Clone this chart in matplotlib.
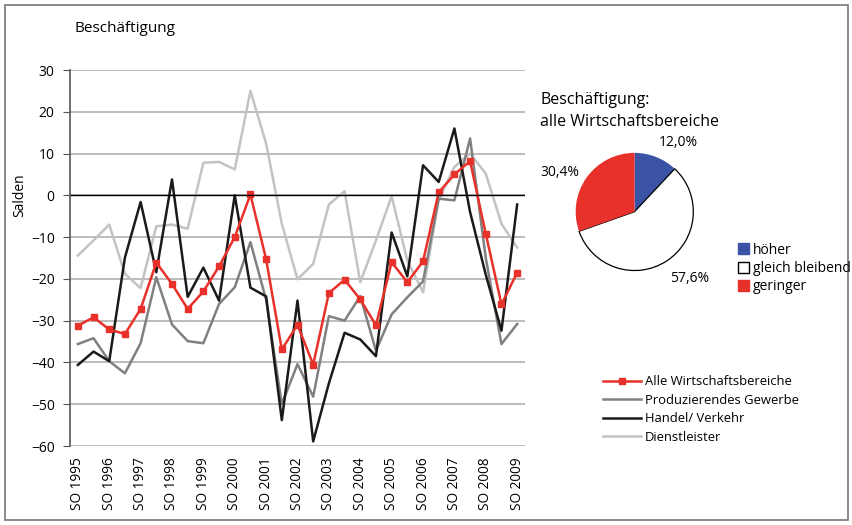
import matplotlib.pyplot as plt
from matplotlib.lines import Line2D
from matplotlib.patches import Patch, Rectangle

plt.rcParams['font.family'] = ['Open Sans', 'DejaVu Sans']

# half-year survey waves, labelled every second one (SO = autumn wave)
years = [str(y) for y in range(1995, 2010)]
tick_labels = ['SO ' + y for y in years]

alle = [-31.2, -29.2, -32.1, -33.2, -27.2, -16.1, -21.2, -27.2, -23.0, -17.0,
        -10.0, 0.2, -15.3, -36.9, -31.0, -40.5, -23.4, -20.2, -24.9, -31.1,
        -16.0, -20.8, -15.8, 0.7, 5.0, 8.2, -9.2, -26.1, -18.5]
produzierend = [-35.6, -34.2, -39.7, -42.6, -35.4, -19.6, -30.9, -34.9, -35.4, -26.0,
                -22.0, -11.2, -25.0, -50.0, -40.4, -48.2, -28.9, -30.0, -24.1, -37.2,
                -28.5, -24.4, -20.6, -0.8, -1.2, 13.6, -15.0, -35.6, -30.8]
handel = [-40.6, -37.4, -39.7, -14.9, -1.6, -18.4, 3.8, -24.3, -17.3, -25.2,
          0.0, -22.1, -24.2, -53.8, -25.2, -58.9, -45.0, -32.9, -34.5, -38.5,
          -8.9, -19.4, 7.2, 3.2, 16.0, -4.0, -19.0, -32.4, -2.2]
dienst = [-14.4, -10.8, -7.0, -18.8, -22.2, -7.4, -7.0, -8.0, 7.8, 8.0,
          6.2, 25.0, 12.4, -6.8, -20.1, -16.4, -2.2, 1.0, -20.8, -10.8,
          -0.2, -15.6, -23.2, -1.0, 6.8, 10.0, 5.2, -6.8, -12.5]

pie_labels = ['höher', 'gleich bleibend', 'geringer']
pie_values = [12.0, 57.6, 30.4]
pie_texts = ['12,0%', '57,6%', '30,4%']

RED = '#e8312a'
BLUE = '#3a53a4'
DARK = '#1a1a1a'
MID = '#808080'
LIGHT = '#c3c3c3'

W, H = 852, 525
fig = plt.figure(figsize=(W / 100, H / 100), dpi=100)

# frame round the whole figure
fig.patches.append(Rectangle((5 / W, 5 / H), 843 / W, 515 / H, transform=fig.transFigure,
                             fill=False, edgecolor='#777777', linewidth=1.2))

# main line chart
ax = fig.add_axes([70 / W, (H - 446) / H, 455 / W, 376 / H])
x = list(range(len(alle)))
ax.plot(x, dienst, color=LIGHT, lw=1.8, label='Dienstleister')
ax.plot(x, produzierend, color=MID, lw=1.8, label='Produzierendes Gewerbe')
ax.plot(x, handel, color=DARK, lw=1.8, label='Handel/ Verkehr')
ax.plot(x, alle, color=RED, lw=1.8, marker='s', markersize=5, label='Alle Wirtschaftsbereiche')

ax.set_xlim(-0.5, len(alle) - 0.5)
ax.set_ylim(-60, 30)
ax.set_yticks(range(-60, 31, 10))
ax.set_xticks(range(0, len(alle), 2))
ax.set_xticklabels(tick_labels, rotation=90, fontsize=9.8)
ax.tick_params(axis='x', length=0, pad=8)
ax.tick_params(axis='y', length=5, color='#555555', labelsize=10, pad=6)
ax.grid(axis='y', color='#b0b0b0', lw=1.2)
ax.axhline(0, color='black', lw=1)
for s in ['top', 'right', 'bottom']:
    ax.spines[s].set_visible(False)
ax.spines['left'].set_color('#555555')
ax.spines['left'].set_linewidth(1.2)
ax.set_axisbelow(True)

fig.text(20 / W, 1 - 195 / H, 'Salden', rotation=90, ha='center', va='center', fontsize=10)
fig.text(75 / W, 1 - 28 / H, 'Beschäftigung', ha='left', va='center', fontsize=11)

handles = [Line2D([], [], color=RED, lw=1.8, marker='s', markersize=5),
           Line2D([], [], color=MID, lw=1.8),
           Line2D([], [], color=DARK, lw=1.8),
           Line2D([], [], color=LIGHT, lw=1.8)]
names = ['Alle Wirtschaftsbereiche', 'Produzierendes Gewerbe', 'Handel/ Verkehr', 'Dienstleister']
fig.legend(handles, names, loc='upper left', bbox_to_anchor=(598 / W, 1 - 370 / H),
           frameon=False, fontsize=9.4, handlelength=2.9, handletextpad=0.3,
           labelspacing=0.42, borderaxespad=0)

# pie chart
pax = fig.add_axes([574.5 / W, (H - 271.7) / H, 120 / W, 120 / H])
wedges, _ = pax.pie(pie_values, colors=[BLUE, 'white', RED], startangle=90,
                    counterclock=False, radius=1,
                    wedgeprops=dict(linewidth=0))
wedges[1].set_edgecolor('black')
wedges[1].set_linewidth(0.9)
pax.set_xlim(-1.02, 1.02)
pax.set_ylim(-1.02, 1.02)
pax.set_aspect('equal')

fig.text(540 / W, 1 - 100 / H, 'Beschäftigung:', ha='left', va='center', fontsize=11.5)
fig.text(540 / W, 1 - 122 / H, 'alle Wirtschaftsbereiche', ha='left', va='center', fontsize=11.5)
fig.text(678 / W, 1 - 143 / H, pie_texts[0], ha='center', va='center', fontsize=10)
fig.text(690 / W, 1 - 278 / H, pie_texts[1], ha='center', va='center', fontsize=10)
fig.text(560 / W, 1 - 172 / H, pie_texts[2], ha='center', va='center', fontsize=10)

pie_handles = [Patch(facecolor=BLUE, edgecolor=BLUE),
               Patch(facecolor='white', edgecolor='black'),
               Patch(facecolor=RED, edgecolor=RED)]
fig.legend(pie_handles, pie_labels, loc='upper left', bbox_to_anchor=(732 / W, 1 - 237 / H),
           frameon=False, fontsize=10, handlelength=0.8, handleheight=0.8,
           handletextpad=0.3, labelspacing=0.25, borderaxespad=0)

fig.savefig('out.png', dpi=100)
